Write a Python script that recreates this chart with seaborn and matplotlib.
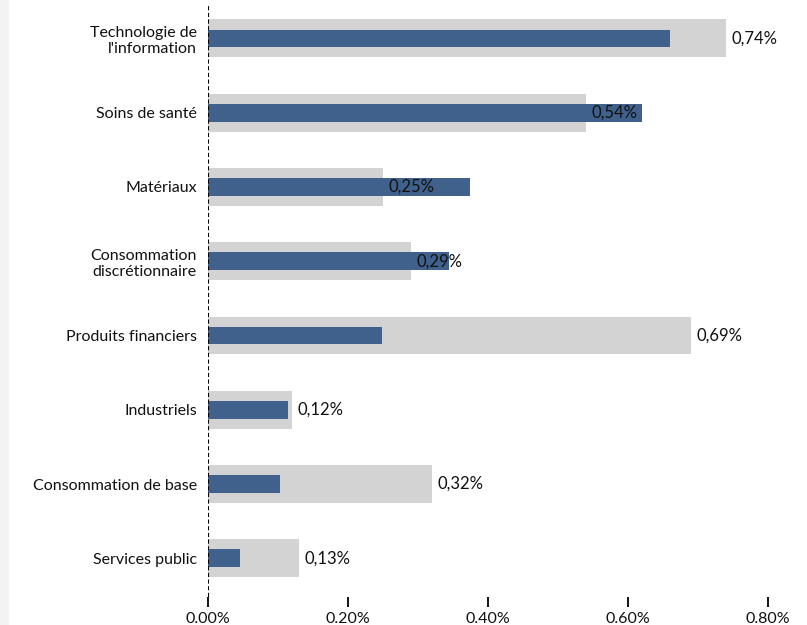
import matplotlib
matplotlib.use("Agg")
import matplotlib.pyplot as plt
from matplotlib.patches import Rectangle
from matplotlib.ticker import FuncFormatter
import seaborn as sns
import pandas as pd

sectors = [
    "Technologie de\nl'information",
    "Soins de santé",
    "Matériaux",
    "Consommation\ndiscrétionnaire",
    "Produits financiers",
    "Industriels",
    "Consommation de base",
    "Services public",
]
benchmark = [0.74, 0.54, 0.25, 0.29, 0.69, 0.12, 0.32, 0.13]
portfolio = [0.66, 0.62, 0.374, 0.344, 0.249, 0.114, 0.103, 0.046]
x_ticks = [0.0, 0.2, 0.4, 0.6, 0.8]

df = pd.DataFrame({"sector": sectors, "benchmark": benchmark, "portfolio": portfolio})

sns.set_theme(style="white")
plt.rcParams["font.family"] = ["Lato", "DejaVu Sans"]

fig = plt.figure(figsize=(8.07, 6.25), dpi=100)
fig.patches.append(Rectangle((0, 0), 9 / 807, 1, transform=fig.transFigure,
                             facecolor="#f3f3f3", edgecolor="none", zorder=0))
ax = fig.add_axes([208 / 807, 28 / 625, 560 / 807, 592 / 625])

sns.barplot(data=df, y="sector", x="benchmark", orient="h", color="#d3d3d3",
            width=0.51, saturation=1, linewidth=0, ax=ax, zorder=1)
sns.barplot(data=df, y="sector", x="portfolio", orient="h", color="#3f618c",
            width=0.24, saturation=1, linewidth=0, ax=ax, zorder=2)

for i, v in enumerate(benchmark):
    ax.text(v + 0.008, i, f"{v:.2f}%".replace(".", ","), va="center", ha="left",
            fontsize=12, color="#111111", zorder=3)

ax.axvline(0, color="black", linestyle=(0, (2.0, 1.2)), linewidth=1.5, zorder=4)

ax.set_xlim(0, 0.8)
ax.set_ylim(7.52, -0.45)
ax.set_xticks(x_ticks)
ax.xaxis.set_major_formatter(FuncFormatter(lambda v, _: f"{v:.2f}%"))
ax.set_xlabel("")
ax.set_ylabel("")
for s in ax.spines.values():
    s.set_visible(False)
ax.tick_params(axis="x", direction="out", length=7, width=1.3, color="black",
               bottom=True, labelsize=11.5, pad=4, labelcolor="#111111")
ax.tick_params(axis="y", length=0, pad=8, labelsize=11.5, labelcolor="#111111")
ax.set_facecolor("white")

fig.savefig("out.png", dpi=100)
